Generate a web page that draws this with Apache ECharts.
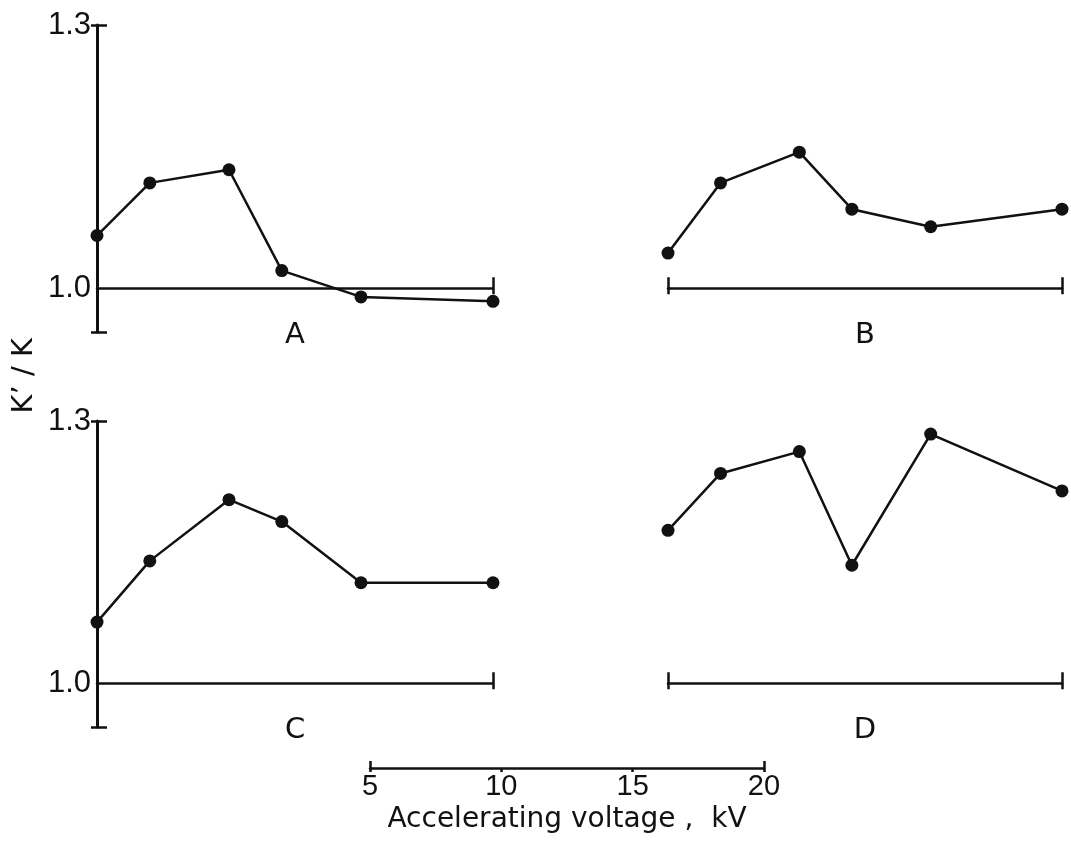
<!DOCTYPE html>
<html>
<head>
<meta charset="utf-8">
<title>K'/K versus accelerating voltage</title>
<script src="https://cdn.jsdelivr.net/npm/echarts@6/dist/echarts.min.js"></script>
<style>
  html, body { margin: 0; padding: 0; background: #fff; }
  #chart { width: 1071px; height: 852px; }
</style>
</head>
<body>
<div id="chart"></div>
<script>
// Accelerating voltage of each measurement (kV)
const voltage = [5, 7, 10, 12, 15, 20];

// K'/K ratio for the four specimens
const ratioA = [1.06, 1.12, 1.135, 1.02, 0.99, 0.985];
const ratioB = [1.04, 1.12, 1.155, 1.09, 1.07, 1.09];
const ratioC = [1.07, 1.14, 1.21, 1.185, 1.115, 1.115];
const ratioD = [1.175, 1.24, 1.265, 1.135, 1.285, 1.22];

const panelNames = ['A', 'B', 'C', 'D'];
const panelRatios = [ratioA, ratioB, ratioC, ratioD];

// Axis ranges and tick labels
const yMin = 0.95;
const yMax = 1.3;
const yBase = 1.0;
const yTickLabels = [1.0, 1.3];
const yTickMarks = [0.95, 1.3];
const vMin = 5;
const vMax = 20;
const scaleTickLabels = [5, 10, 15, 20];
const yTitle = "K\u2019 / K";
const xTitle = 'Accelerating voltage ,  kV';

const ink = '#111111';
const wordFont = 'DejaVu Sans';
const numFont = 'Liberation Sans';
const strokeW = 2.5;

// Panel layout: A and C carry a visible y axis on the left
const grids = [
  { left: 97,  top: 25,  width: 396, height: 307 },
  { left: 668, top: 25,  width: 394, height: 307 },
  { left: 97,  top: 421, width: 396, height: 306 },
  { left: 668, top: 421, width: 394, height: 306 },
  { left: 370, top: 748, width: 394, height: 20 }   // voltage scale bar
].map(g => Object.assign({ outerBoundsMode: 'none', containLabel: false }, g));

const xAxes = [];
const yAxes = [];
const series = [];

panelNames.forEach((name, i) => {
  const g = grids[i];
  const hasYAxis = (i % 2 === 0);
  const ends = hasYAxis ? [vMax] : [vMin, vMax];
  // baseline at K'/K = 1.0
  const baseOffset = -g.height * (yBase - yMin) / (yMax - yMin);

  xAxes.push({
    type: 'value', gridIndex: i, min: vMin, max: vMax, position: 'bottom',
    offset: baseOffset,
    axisLine: { show: true, onZero: false, lineStyle: { color: ink, width: strokeW } },
    axisTick: { show: true, customValues: ends, length: 6, lineStyle: { color: ink, width: strokeW } },
    axisLabel: { show: false },
    splitLine: { show: false },
    name: name, nameLocation: 'middle', nameGap: 33,
    nameTextStyle: { fontSize: 29, color: ink, fontFamily: wordFont }
  });
  xAxes.push({
    type: 'value', gridIndex: i, min: vMin, max: vMax, position: 'bottom',
    offset: baseOffset,
    axisLine: { show: false, onZero: false },
    axisTick: { show: true, inside: true, customValues: ends, length: 11, lineStyle: { color: ink, width: strokeW } },
    axisLabel: { show: false },
    splitLine: { show: false }
  });

  yAxes.push({
    type: 'value', gridIndex: i, min: yMin, max: yMax, position: 'left',
    show: hasYAxis,
    axisLine: { show: true, onZero: false, lineStyle: { color: ink, width: strokeW + 0.5 } },
    axisTick: { show: true, customValues: yTickMarks, length: 6, lineStyle: { color: ink, width: strokeW } },
    axisLabel: {
      show: true, customValues: yTickLabels, margin: 6,
      formatter: v => Number(v).toFixed(1),
      fontSize: 31, color: ink, fontFamily: numFont
    },
    splitLine: { show: false }
  });
  yAxes.push({
    type: 'value', gridIndex: i, min: yMin, max: yMax, position: 'left',
    show: hasYAxis,
    axisLine: { show: false, onZero: false },
    axisTick: { show: true, inside: true, customValues: yTickMarks, length: 10, lineStyle: { color: ink, width: strokeW } },
    axisLabel: { show: false },
    splitLine: { show: false }
  });

  series.push({
    type: 'line',
    xAxisIndex: 2 * i, yAxisIndex: 2 * i,
    data: voltage.map((v, k) => [v, panelRatios[i][k]]),
    symbol: 'circle', symbolSize: 13,
    itemStyle: { color: ink },
    lineStyle: { color: ink, width: strokeW },
    clip: false,
    z: 5
  });
});

// Voltage scale bar beneath the panels
xAxes.push({
  type: 'value', gridIndex: 4, min: vMin, max: vMax, position: 'bottom',
  axisLine: { show: true, onZero: false, lineStyle: { color: ink, width: strokeW } },
  axisTick: { show: true, customValues: scaleTickLabels, length: 4, lineStyle: { color: ink, width: strokeW } },
  axisLabel: { show: true, customValues: scaleTickLabels, margin: 4, fontSize: 29, color: ink, fontFamily: numFont },
  splitLine: { show: false },
  name: xTitle, nameLocation: 'middle', nameGap: 38,
  nameTextStyle: { fontSize: 28, color: ink, fontFamily: wordFont }
});
xAxes.push({
  type: 'value', gridIndex: 4, min: vMin, max: vMax, position: 'bottom',
  axisLine: { show: false, onZero: false },
  axisTick: { show: true, inside: true, customValues: [vMin, vMax], length: 7, lineStyle: { color: ink, width: strokeW } },
  axisLabel: { show: false },
  splitLine: { show: false }
});
yAxes.push({ type: 'value', gridIndex: 4, min: 0, max: 1, show: false });

const chart = echarts.init(document.getElementById('chart'), null, { renderer: 'canvas' });
chart.setOption({
  backgroundColor: '#ffffff',
  animation: false,
  grid: grids,
  xAxis: xAxes,
  yAxis: yAxes,
  series: series,
  graphic: [{
    type: 'text',
    left: 10, top: 338,
    rotation: Math.PI / 2,
    originX: 0, originY: 0,
    style: {
      text: yTitle,
      fontSize: 29, fill: ink, fontFamily: wordFont
    }
  }]
});
</script>
</body>
</html>
